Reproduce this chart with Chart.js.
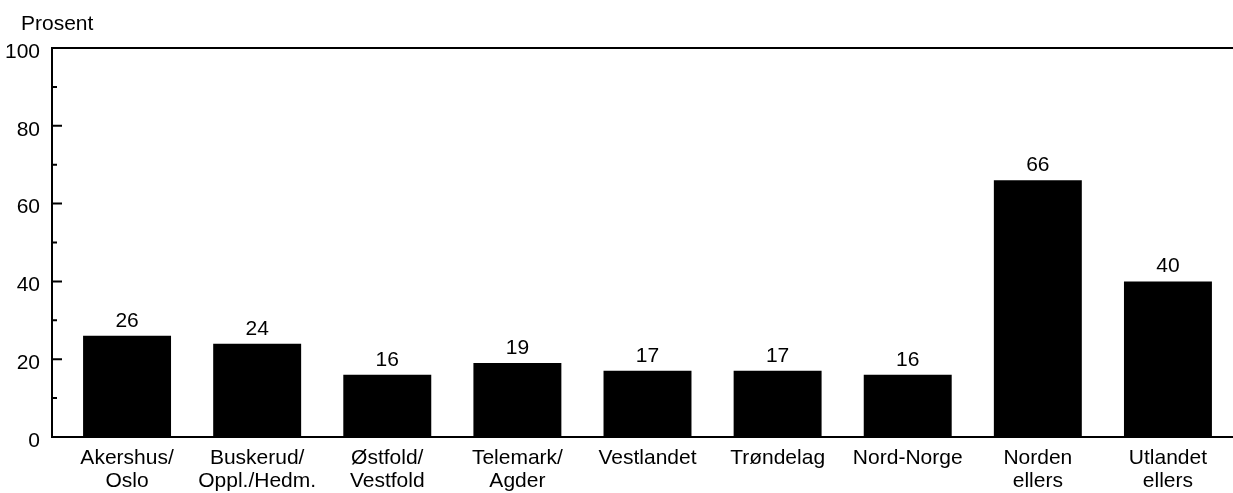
<!DOCTYPE html>
<html>
<head>
<meta charset="utf-8">
<script src="https://cdn.jsdelivr.net/npm/chart.js@4.4.1/dist/chart.umd.min.js"></script>
<style>
    html, body { margin: 0; padding: 0; background: #fff; }
    #wrap { width: 1233px; height: 493px; position: relative; }
</style>
</head>
<body>
<div id="wrap"><canvas id="chart"></canvas></div>
<script>
// share (prosent) by region
const regions = [
    ['Akershus/', 'Oslo'],
    ['Buskerud/', 'Oppl./Hedm.'],
    ['Østfold/', 'Vestfold'],
    ['Telemark/', 'Agder'],
    'Vestlandet',
    'Trøndelag',
    'Nord-Norge',
    ['Norden', 'ellers'],
    ['Utlandet', 'ellers']
];
const shares = [26, 24, 16, 19, 17, 17, 16, 66, 40];
const yLabels = [0, 20, 40, 60, 80, 100];
const yUnit = 'Prosent';

const FONT = "'Liberation Sans', Arial, sans-serif";
const SIZE = 21;
Chart.defaults.font.family = FONT;
Chart.defaults.font.size = SIZE;
Chart.defaults.color = '#000';

// axis frame with inward ticks, drawn off the y scale
const framePlugin = {
    id: 'frame',
    afterDraw(chart) {
        const { ctx, chartArea: a } = chart;
        const y = chart.scales.y;
        const axisX = a.left - 10;
        const top = y.getPixelForValue(100);
        const bottom = y.getPixelForValue(0);
        ctx.save();
        ctx.strokeStyle = '#000';
        ctx.lineWidth = 2;
        ctx.beginPath();
        ctx.moveTo(chart.width, top);
        ctx.lineTo(axisX, top);
        ctx.lineTo(axisX, bottom);
        ctx.lineTo(chart.width, bottom);
        y.ticks.forEach(t => {
            if (t.value === 0 || t.value === 100) return;
            const py = y.getPixelForValue(t.value);
            const len = yLabels.includes(t.value) ? 10 : 5;
            ctx.moveTo(axisX, py);
            ctx.lineTo(axisX + len, py);
        });
        ctx.stroke();
        ctx.fillStyle = '#000';
        ctx.font = SIZE + 'px ' + FONT;
        ctx.textAlign = 'left';
        ctx.textBaseline = 'alphabetic';
        ctx.fillText(yUnit, axisX - 31, top - 18);
        ctx.restore();
    }
};

// numbers above the bars
const valuePlugin = {
    id: 'values',
    afterDatasetsDraw(chart) {
        const { ctx } = chart;
        const meta = chart.getDatasetMeta(0);
        ctx.save();
        ctx.fillStyle = '#000';
        ctx.font = SIZE + 'px ' + FONT;
        ctx.textAlign = 'center';
        ctx.textBaseline = 'alphabetic';
        meta.data.forEach((bar, i) => {
            ctx.fillText(String(shares[i]), bar.x, bar.y - 9);
        });
        ctx.restore();
    }
};

new Chart(document.getElementById('chart'), {
    type: 'bar',
    data: {
        labels: regions,
        datasets: [{
            data: shares,
            backgroundColor: '#000',
            borderWidth: 0,
            categoryPercentage: 1,
            barPercentage: 0.676
        }]
    },
    options: {
        responsive: true,
        maintainAspectRatio: false,
        animation: false,
        layout: { padding: { top: 48, left: 0, right: 0, bottom: 0 } },
        plugins: { legend: { display: false }, tooltip: { enabled: false } },
        scales: {
            x: {
                grid: { display: false },
                border: { display: false },
                ticks: { padding: 2, maxRotation: 0, autoSkip: false, font: { size: SIZE, lineHeight: 1.08 } },
                afterFit: s => { s.height = 56; }
            },
            y: {
                min: 0,
                max: 100,
                grid: { display: false },
                border: { display: false },
                ticks: {
                    stepSize: 10,
                    padding: 14,
                    labelOffset: 4,
                    font: { size: SIZE },
                    callback: v => yLabels.includes(v) ? String(v) : ''
                },
                afterFit: s => { s.width = 62; }
            }
        }
    },
    plugins: [framePlugin, valuePlugin]
});
</script>
</body>
</html>
